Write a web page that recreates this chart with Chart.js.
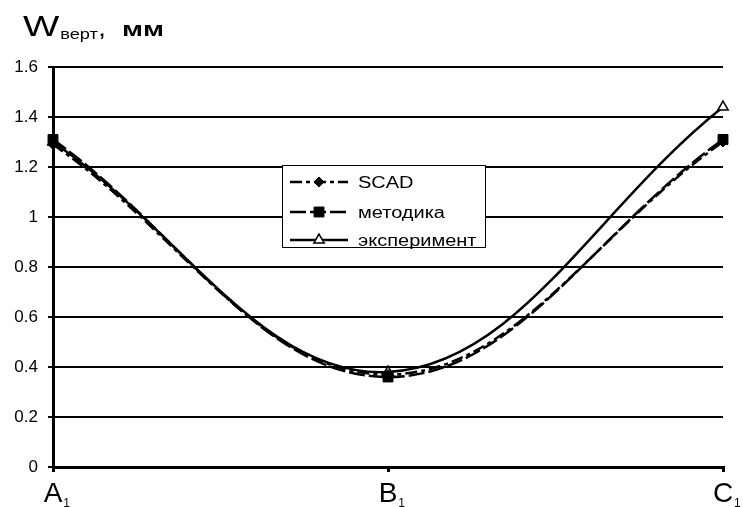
<!DOCTYPE html>
<html>
<head>
<meta charset="utf-8">
<script src="https://cdn.jsdelivr.net/npm/chart.js@4.4.1/dist/chart.umd.min.js"></script>
<style>
  html, body { margin: 0; padding: 0; background: #fff; }
  #wrap { width: 743px; height: 507px; }
</style>
</head>
<body>
<div id="wrap"><canvas id="chart" width="743" height="507"></canvas></div>
<script>
// data
const categories = ['A', 'B', 'C'];
const categorySubs = ['1', '1', '1'];
const seriesNames = ['SCAD', 'методика', 'эксперимент'];
const scadValues = [1.29, 0.37, 1.30];
const metodikaValues = [1.31, 0.36, 1.31];
const experimentValues = [1.30, 0.38, 1.44];
const yMin = 0, yMax = 1.6, yStep = 0.2;

const FONT = "'Liberation Sans', Arial, sans-serif";

// title and x labels with subscripts, legend box
const extrasPlugin = {
  id: 'extras',
  afterDraw(chart) {
    const ctx = chart.ctx;
    const xs = chart.scales.x;
    ctx.save();
    ctx.fillStyle = '#000';
    ctx.textBaseline = 'alphabetic';

    function stretched(text, x, y, font, sx) {
      ctx.save();
      ctx.font = font;
      ctx.translate(x, y);
      ctx.scale(sx, 1);
      ctx.textAlign = 'left';
      ctx.fillText(text, 0, 0);
      const w = ctx.measureText(text).width * sx;
      ctx.restore();
      return w;
    }

    // title  W верт, мм
    let tx = 23;
    tx += stretched('W', tx, 36, '30px ' + FONT, 1.28);
    tx += 1;
    tx += stretched('верт', tx, 39, '14px ' + FONT, 1.3);
    stretched(',', tx, 36, '24px ' + FONT, 1.2);
    stretched('мм', 122, 36, 'bold 21px ' + FONT, 1.35);

    // category labels
    categories.forEach((c, i) => {
      const x = xs.getPixelForValue(i);
      ctx.font = '28px ' + FONT;
      ctx.textAlign = 'center';
      ctx.fillText(c, x, 502);
      const w = ctx.measureText(c).width;
      ctx.font = '12px ' + FONT;
      ctx.textAlign = 'left';
      ctx.fillText(categorySubs[i], x + w / 2 + 1, 507);
    });

    // legend
    const bx = 282, by = 165, bw = 203, bh = 82;
    ctx.fillStyle = '#fff';
    ctx.fillRect(bx, by, bw, bh);
    ctx.strokeStyle = '#000';
    ctx.lineWidth = 1;
    ctx.strokeRect(bx + 0.5, by + 0.5, bw, bh);
    const rows = [182, 212, 240];
    chart.data.datasets.forEach((ds, i) => {
      const y = rows[i];
      ctx.save();
      ctx.strokeStyle = '#000';
      ctx.lineWidth = 2.5;
      ctx.setLineDash(ds.borderDash || []);
      ctx.beginPath();
      ctx.moveTo(290, y);
      ctx.lineTo(348, y);
      ctx.stroke();
      ctx.restore();
      ctx.save();
      ctx.fillStyle = ds.pointBackgroundColor;
      ctx.strokeStyle = ds.pointBorderColor;
      ctx.lineWidth = ds.pointBorderWidth;
      Chart.helpers.drawPoint(ctx, {
        pointStyle: ds.pointStyle,
        radius: ds.pointRadius,
        borderWidth: ds.pointBorderWidth
      }, 319, y);
      ctx.restore();
      ctx.fillStyle = '#000';
      stretched(ds.label, 358, y + 6, '16px ' + FONT, 1.25);
    });
    ctx.restore();
  }
};

new Chart(document.getElementById('chart'), {
  type: 'line',
  data: {
    labels: categories,
    datasets: [
      {
        label: seriesNames[0],
        data: scadValues,
        borderColor: '#000',
        borderWidth: 2.5,
        borderDash: [12, 4, 4, 4],
        tension: 0.38,
        pointStyle: 'rectRot',
        pointRadius: 5,
        pointBorderWidth: 1,
        pointBackgroundColor: '#000',
        pointBorderColor: '#000',
        clip: false
      },
      {
        label: seriesNames[1],
        data: metodikaValues,
        borderColor: '#000',
        borderWidth: 2.5,
        borderDash: [16, 4],
        tension: 0.38,
        pointStyle: 'rect',
        pointRadius: 7,
        pointBorderWidth: 1,
        pointBackgroundColor: '#000',
        pointBorderColor: '#000',
        clip: false
      },
      {
        label: seriesNames[2],
        data: experimentValues,
        borderColor: '#000',
        borderWidth: 2.5,
        tension: 0.38,
        pointStyle: 'triangle',
        pointRadius: 6,
        pointBorderWidth: 1.5,
        pointBackgroundColor: '#fff',
        pointBorderColor: '#000',
        clip: false
      }
    ]
  },
  options: {
    responsive: false,
    animation: false,
    events: [],
    layout: { padding: { top: 67, right: 20, left: 0, bottom: 0 } },
    plugins: { legend: { display: false }, tooltip: { enabled: false } },
    scales: {
      x: {
        offset: false,
        ticks: { display: false },
        grid: { drawOnChartArea: false, drawTicks: true, tickLength: 5, color: '#000', lineWidth: 3 },
        border: { display: true, color: '#000', width: 3 },
        afterFit(s) { s.height = 40; }
      },
      y: {
        min: yMin,
        max: yMax,
        ticks: {
          stepSize: yStep,
          color: '#000',
          padding: 10,
          font: { family: FONT, size: 17 },
          callback: v => String(Math.round(v * 10) / 10)
        },
        grid: { color: '#000', lineWidth: 2, tickLength: 5 },
        border: { display: true, color: '#000', width: 3 },
        afterFit(s) { s.width = 53; }
      }
    }
  },
  plugins: [extrasPlugin]
});
</script>
</body>
</html>
